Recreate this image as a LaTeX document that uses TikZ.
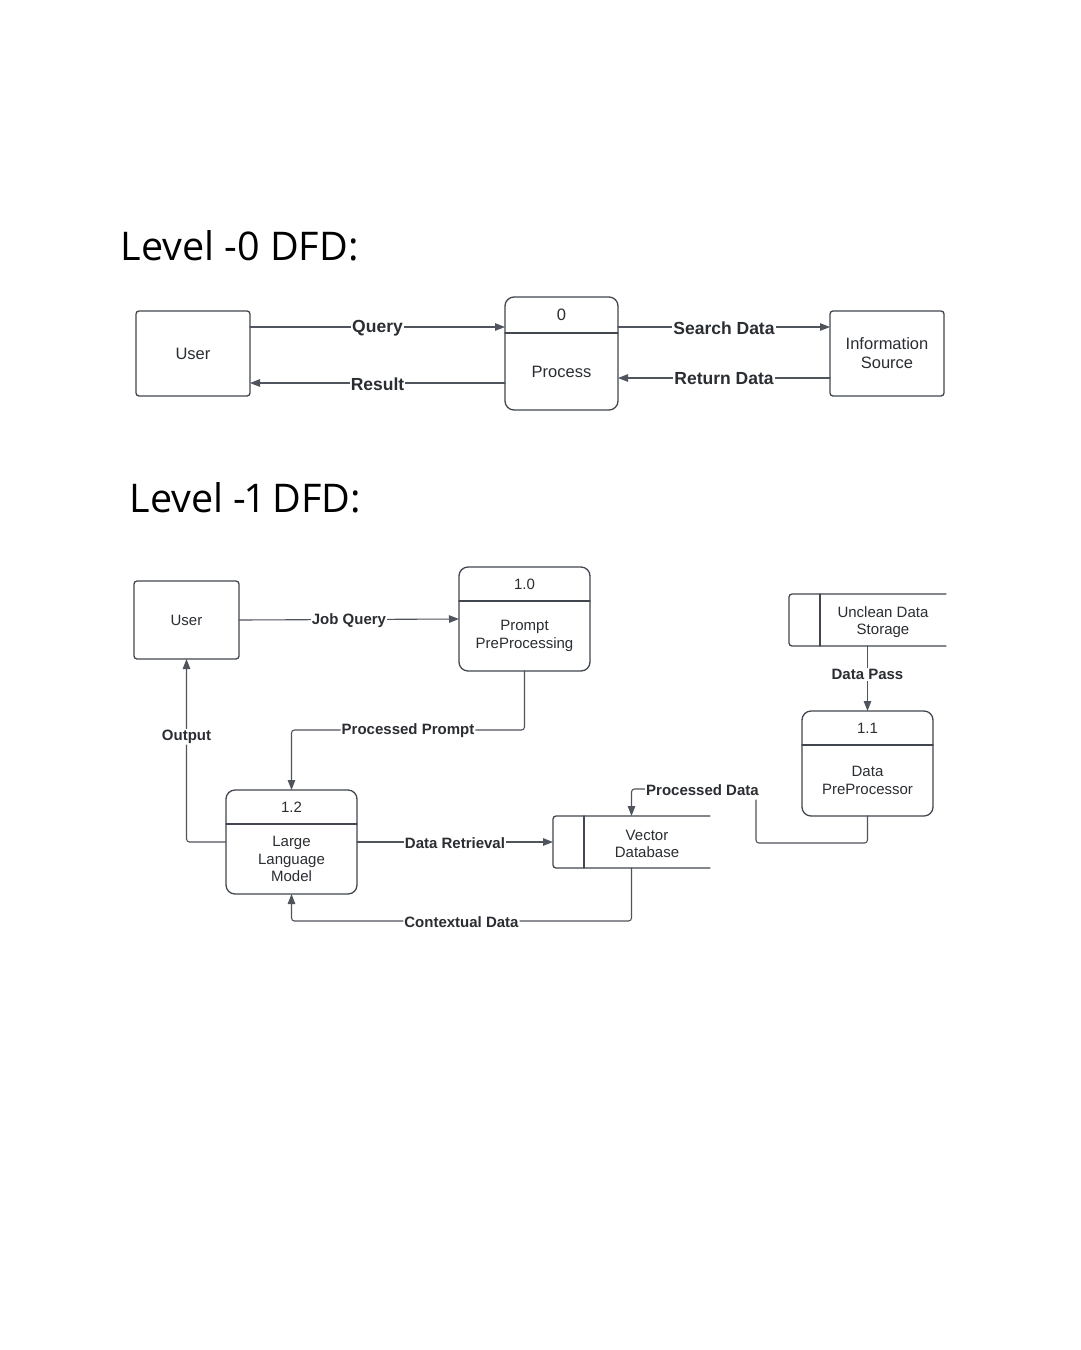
\documentclass[tikz,border=0pt]{standalone}
\usepackage{fontspec}
\setmainfont{Liberation Sans}
\newfontfamily\titlefont[Numbers=Proportional]{Open Sans}
\usetikzlibrary{arrows.meta}
\definecolor{boxgray}{HTML}{42464E}
\definecolor{flowgray}{HTML}{50545C}
\definecolor{txtgray}{HTML}{2A2D32}
\tikzset{
  entity/.style={draw=boxgray, line width=1.3pt, rounded corners=3pt, inner sep=0pt, outer sep=0pt, align=center},
  procbox/.style={draw=boxgray, line width=1.3pt, rounded corners=9pt, inner sep=0pt, outer sep=0pt},
  storebox/.style={inner sep=0pt, outer sep=0pt},
  flow/.style={draw=flowgray, line width=1.1pt, -{Triangle[length=10pt,width=7.5pt]}},
  flowlabel/.style={fill=white, inner sep=1pt, yshift=-1pt, text=txtgray, font=\bfseries\fontsize{17.5}{20}\selectfont},
  smalllabel/.style={fill=white, inner sep=1pt, yshift=-1pt, text=txtgray, font=\bfseries\fontsize{15}{18}\selectfont},
  boxtext/.style={align=center, text=txtgray, font=\fontsize{16.5}{19}\selectfont},
  smalltext/.style={align=center, text=txtgray, font=\fontsize{15}{17.5}\selectfont}
}
\begin{document}
\begin{tikzpicture}[x=1pt, y=-1pt, line join=round, line cap=round, >=stealth]
  \useasboundingbox[fill=white] (0,0) rectangle (1080,1350);
  % level 0
  \node[anchor=base west, text=black, font=\titlefont\fontsize{39.5}{48}\selectfont] (t0) at (117,260) {Level -0 DFD:};
  \node[entity, minimum width=114pt, minimum height=85pt] (u0) at (193,353.5) {};
  \node[boxtext] (u0t) at (u0.center) {User};
  \node[procbox, minimum width=113pt, minimum height=113pt] (p0) at (561.5,353.5) {};
  \draw[boxgray, line width=1.3pt] ([yshift=-36pt]p0.north west) -- ([yshift=-36pt]p0.north east);
  \node[boxtext] (p0n) at ([yshift=-18pt]p0.north) {0};
  \node[boxtext] (p0t) at ([yshift=38.5pt]p0.south) {Process};
  \node[entity, minimum width=114pt, minimum height=85pt] (is0) at (887,353.5) {};
  \node[boxtext] (is0t) at (is0.center) {Information\\Source};
  \draw[flow] ([yshift=26.5pt]u0.east) -- node[flowlabel]{Query} ([yshift=26.5pt]p0.west);
  \draw[flow] ([yshift=-29.5pt]p0.west) -- node[flowlabel]{Result} ([yshift=-29.5pt]u0.east);
  \draw[flow] ([yshift=26.5pt]p0.east) -- node[flowlabel]{Search Data} ([yshift=26.5pt]is0.west);
  \draw[flow] ([yshift=-24.5pt]is0.west) -- node[flowlabel]{Return Data} ([yshift=-24.5pt]p0.east);
  % level 1
  \node[anchor=base west, text=black, font=\titlefont\fontsize{39.5}{48}\selectfont] (t1) at (126,512) {Level -1 DFD:};
  \node[entity, minimum width=105pt, minimum height=78pt] (u1) at (186.5,620) {};
  \node[smalltext] (u1t) at (u1.center) {User};
  \node[procbox, minimum width=131pt, minimum height=104pt] (p10) at (524.5,619) {};
  \draw[boxgray, line width=1.3pt] ([yshift=-34pt]p10.north west) -- ([yshift=-34pt]p10.north east);
  \node[smalltext] (p10n) at ([yshift=-17pt]p10.north) {1.0};
  \node[smalltext] (p10t) at ([yshift=35pt]p10.south) {Prompt\\PreProcessing};
  \node[storebox, minimum width=157pt, minimum height=52pt] (ucs) at (867.5,620) {};
  \draw[boxgray, line width=1.3pt, rounded corners=3pt] (ucs.north east) -- (ucs.north west) -- (ucs.south west) -- (ucs.south east);
  \draw[boxgray, line width=1.3pt] ([xshift=31pt]ucs.north west) -- ([xshift=31pt]ucs.south west);
  \node[smalltext] (ucst) at (883,622) {Unclean Data\\Storage};
  \node[procbox, minimum width=131pt, minimum height=105pt] (p11) at (867.5,763.5) {};
  \draw[boxgray, line width=1.3pt] ([yshift=-34pt]p11.north west) -- ([yshift=-34pt]p11.north east);
  \node[smalltext] (p11n) at ([yshift=-17pt]p11.north) {1.1};
  \node[smalltext] (p11t) at ([yshift=35.5pt]p11.south) {Data\\PreProcessor};
  \node[procbox, minimum width=131pt, minimum height=104pt] (p12) at (291.5,842) {};
  \draw[boxgray, line width=1.3pt] ([yshift=-34pt]p12.north west) -- ([yshift=-34pt]p12.north east);
  \node[smalltext] (p12n) at ([yshift=-17pt]p12.north) {1.2};
  \node[smalltext] (p12t) at ([yshift=35pt]p12.south) {Large\\Language\\Model};
  \node[storebox, minimum width=157pt, minimum height=52pt] (vdb) at (631.5,842) {};
  \draw[boxgray, line width=1.3pt, rounded corners=3pt] (vdb.north east) -- (vdb.north west) -- (vdb.south west) -- (vdb.south east);
  \draw[boxgray, line width=1.3pt] ([xshift=31pt]vdb.north west) -- ([xshift=31pt]vdb.south west);
  \node[smalltext] (vdbt) at (647,844) {Vector\\Database};
  \path
  (524.5,730) coordinate (pp1)
  (291.5,730) coordinate (pp2)
  (867.5,843) coordinate (pd1)
  (756,843) coordinate (pd2)
  (756,789) coordinate (pd3)
  (631.5,789) coordinate (pd4)
  (631.5,921) coordinate (cd1)
  (291.5,921) coordinate (cd2)
  ;
  \draw[flow] (u1.east) -- node[smalllabel]{Job Query} (p10.west);
  \draw[flow, rounded corners=3pt] (p10.south) -- (pp1) -- node[smalllabel]{Processed Prompt} (pp2) -- (p12.north);
  \draw[flow] (ucs.south) -- node[smalllabel, pos=0.42]{Data Pass} (p11.north);
  \draw[flow, rounded corners=3pt] (p11.south) -- (pd1) -- (pd2) -- (pd3) -- node[smalllabel, pos=0.43, inner ysep=4pt]{Processed Data} (pd4) -- (vdb.north);
  \draw[flow] (p12.east) -- node[smalllabel]{Data Retrieval} (vdb.west);
  \draw[flow, rounded corners=3pt] (vdb.south) -- (cd1) -- node[smalllabel]{Contextual Data} (cd2) -- (p12.south);
  \draw[flow, rounded corners=3pt] (p12.west) -| node[smalllabel, pos=0.79]{Output} (u1.south);
\end{tikzpicture}
\end{document}
